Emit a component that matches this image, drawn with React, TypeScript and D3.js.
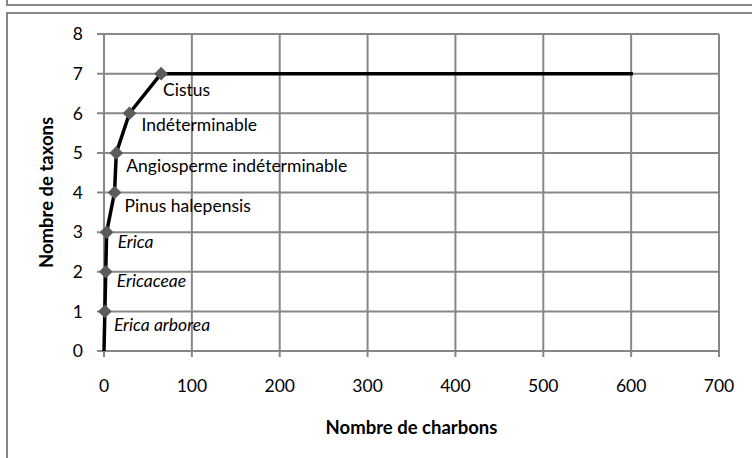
import * as d3 from "d3";

// ── data ──
const charbons = [0, 1, 2, 3, 12, 14, 29, 65, 602];
const taxons = [0, 1, 2, 3, 4, 5, 6, 7, 7];
const taxonLabels = ["", "Erica arborea", "Ericaceae", "Erica", "Pinus halepensis",
  "Angiosperme indéterminable", "Indéterminable", "Cistus", ""];
const italicLabel = [false, true, true, true, false, false, false, false, false];
const xTicks = [0, 100, 200, 300, 400, 500, 600, 700];
const yTicks = [0, 1, 2, 3, 4, 5, 6, 7, 8];

// label nudges (px) relative to each marker, as placed in the source chart
const labelDx = [0, 9, 11, 11, 10, 10, 12, 2, 0];
const labelDy = [0, 20, 15, 16, 19, 19, 18, 22, 0];

const W = 752;
const H = 458;
const plot = { left: 104, right: 719, top: 34, bottom: 351 };

const x = d3.scaleLinear().domain([0, 700]).range([plot.left, plot.right]);
const y = d3.scaleLinear().domain([0, 8]).range([plot.bottom, plot.top]);

const GRID = "#878787";
const FONT = "Lato, 'Open Sans', sans-serif";

export default function App() {
  const pts = charbons.map((c, i) => ({ c, t: taxons[i], label: taxonLabels[i], i }));
  const line = d3.line<{ c: number; t: number }>().x(d => x(d.c)).y(d => y(d.t))(pts);
  const diamond = d3.symbol().type(d3.symbolDiamond2).size(120)();

  return (
    <div style={{ position: "absolute", left: 0, top: 0 }}>
      <svg width={W} height={H} style={{ display: "block", background: "#fff" }}>
        {/* frames */}
        <path d={`M7,0 V5 H${W}`} fill="none" stroke={GRID} strokeWidth={2} />
        <path d={`M7,${H} V13 H${W}`} fill="none" stroke={GRID} strokeWidth={2} />

        {/* gridlines + tick marks */}
        {yTicks.map(t => (
          <line key={"y" + t} x1={plot.left - 7} x2={plot.right} y1={y(t)} y2={y(t)}
            stroke={GRID} strokeWidth={2} />
        ))}
        {xTicks.map(t => (
          <line key={"x" + t} x1={x(t)} x2={x(t)} y1={plot.top} y2={plot.bottom + 6}
            stroke={GRID} strokeWidth={2} />
        ))}

        {/* tick labels */}
        {yTicks.map(t => (
          <text key={"yl" + t} x={83} y={y(t)} dy="0.36em" textAnchor="end"
            fontFamily={FONT} fontSize={17.5} fill="#000">{t}</text>
        ))}
        {xTicks.map(t => (
          <text key={"xl" + t} x={x(t)} y={392} textAnchor="middle"
            fontFamily={FONT} fontSize={17.5} fill="#000">{t}</text>
        ))}

        {/* axis titles */}
        <text x={(plot.left + plot.right) / 2} y={434} textAnchor="middle"
          fontFamily={FONT} fontSize={18.5} fontWeight={700} fill="#000">Nombre de charbons</text>
        <text transform={`translate(53, ${(plot.top + plot.bottom) / 2}) rotate(-90)`}
          textAnchor="middle" fontFamily={FONT} fontSize={18.5} fontWeight={700} fill="#000">
          Nombre de taxons
        </text>

        {/* series */}
        <path d={line ?? ""} fill="none" stroke="#000" strokeWidth={3.5} strokeLinejoin="round" />
        {pts.filter(p => p.label).map(p => (
          <path key={"m" + p.i} d={diamond ?? ""} transform={`translate(${x(p.c)}, ${y(p.t)})`}
            fill="#5b5b5b" />
        ))}
        {pts.filter(p => p.label).map(p => (
          <text key={"l" + p.i} x={x(p.c) + labelDx[p.i]} y={y(p.t) + labelDy[p.i]}
            fontFamily={FONT} fontSize={17.5} fontStyle={italicLabel[p.i] ? "italic" : "normal"}
            fill="#000">{p.label}</text>
        ))}
      </svg>
    </div>
  );
}
